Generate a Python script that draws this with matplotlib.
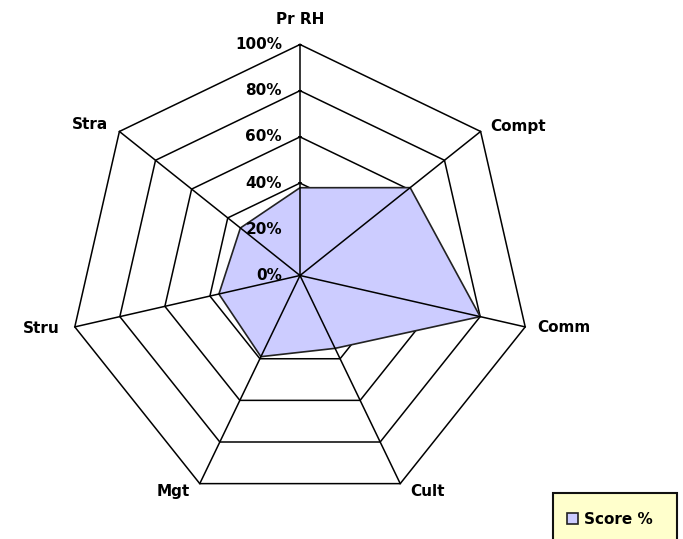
import matplotlib.pyplot as plt
import numpy as np
from matplotlib.patches import Rectangle

categories = ['Pr RH', 'Compt', 'Comm', 'Cult', 'Mgt', 'Stru', 'Stra']
scores = [38, 61, 80, 35, 39, 36, 33]
levels = [0, 20, 40, 60, 80, 100]
level_labels = ['0%', '20%', '40%', '60%', '80%', '100%']
series_name = 'Score %'

# pixel geometry of the reference (centre and 100% radius)
R = 231.0
cx, cy = 300.0, 275.5
W, H = 683, 539

fig = plt.figure(figsize=(W / 100, H / 100), dpi=100)
ax = fig.add_axes([0, 0, 1, 1])
ax.set_xlim(-cx / R, (W - cx) / R)
ax.set_ylim(-(H - cy) / R, cy / R)
ax.axis('off')

n = len(categories)
ang = np.pi / 2 - 2 * np.pi * np.arange(n) / n
ux, uy = np.cos(ang), np.sin(ang)

# polygon rings
for lv in levels[1:]:
    r = lv / 100
    ax.plot(np.append(ux, ux[0]) * r, np.append(uy, uy[0]) * r,
            color='black', lw=1.1, zorder=1)

# small ticks on the value axis (hidden under the series fill)
for lv in levels:
    ax.plot([0], [lv / 100], marker='_', ms=3.5, mew=1.2, color='black', zorder=1.5)

# series
s = np.array(scores) / 100
poly = ax.fill(ux * s, uy * s, facecolor='#CCCCFF', edgecolor='#222222',
               lw=1.2, zorder=2, label=series_name)

# spokes
for i in range(n):
    ax.plot([0, ux[i]], [0, uy[i]], color='black', lw=1.1, zorder=3)

bold = dict(fontweight='bold', fontsize=11, color='black')

for lv, lab in zip(levels, level_labels):
    ax.annotate(lab, (0, lv / 100), xytext=(-18, 0), textcoords='offset pixels',
                ha='right', va='center', zorder=4, **bold)

offsets = [(0, 25, 'center'), (10, 5, 'left'), (12, -1, 'left'), (10, -8, 'left'),
           (-10, -8, 'right'), (-15, -2, 'right'), (-11, 7, 'right')]
for i, name in enumerate(categories):
    dx, dy, ha = offsets[i]
    ax.annotate(name, (ux[i], uy[i]), xytext=(dx, dy), textcoords='offset pixels',
                ha=ha, va='center', **bold)

# legend box (cut off at the bottom edge, as in the reference)
ax.add_patch(Rectangle((553 / W, -10 / H), 124 / W, 56 / H,
                       transform=fig.transFigure, facecolor='#FFFFCC',
                       edgecolor='#111111', lw=1.5, zorder=5, clip_on=False))
leg = ax.legend(handles=poly, loc='center left',
                bbox_to_anchor=(567 / W, 1 - 519 / H), bbox_transform=fig.transFigure,
                frameon=False, handlelength=0.75, handleheight=0.75,
                handletextpad=0.35, borderpad=0, borderaxespad=0,
                prop=dict(weight='bold', size=11))
leg.set_zorder(6)

fig.savefig('out.png', dpi=100)
